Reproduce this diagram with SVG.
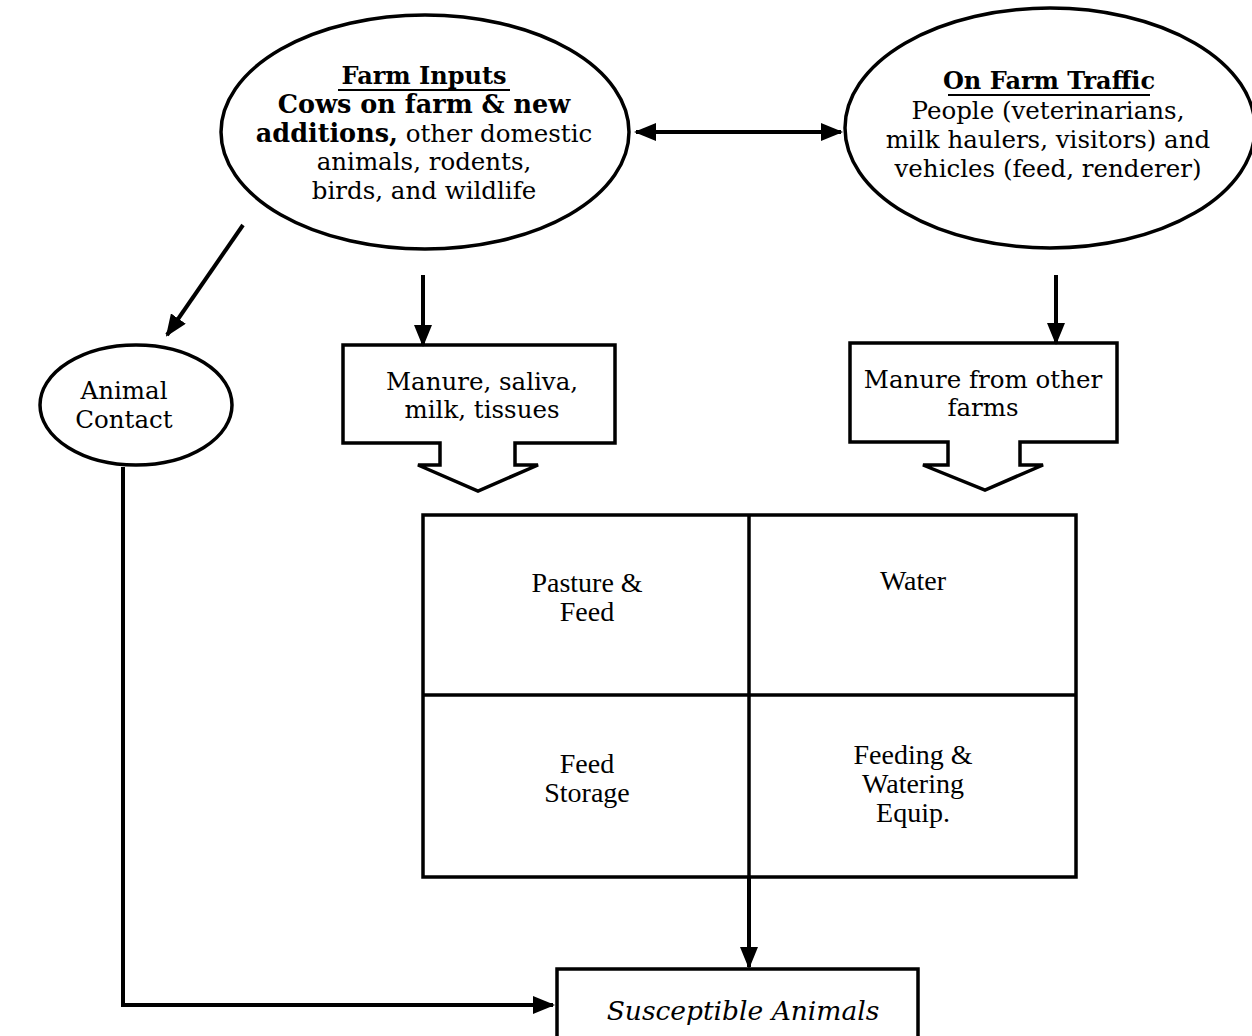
<svg xmlns="http://www.w3.org/2000/svg" width="1252" height="1036" viewBox="0 0 1252 1036">
<style>
.shape{fill:none;stroke:#000;stroke-width:3.5}
.conn{fill:none;stroke:#000;stroke-width:4}
.bk{font-family:"DejaVu Serif","Liberation Serif",serif;font-size:24.5px;fill:#000;text-anchor:middle}
.bkb{font-weight:bold;font-size:24px}
.bkb2{font-weight:bold;font-size:25.5px}
.gd{font-family:"Liberation Serif","DejaVu Serif",serif;font-size:28px;fill:#000;text-anchor:middle}
.it{font-style:italic;font-size:26.5px}
.ul{stroke:#000;stroke-width:2}
</style>
<defs>
<marker id="ah" viewBox="0 0 22 18" refX="20" refY="9" markerWidth="22" markerHeight="18" orient="auto-start-reverse" markerUnits="userSpaceOnUse">
<path d="M0,0 L22,9 L0,18 Z" fill="#000"/>
</marker>
</defs>
<rect width="1252" height="1036" fill="#fff"/>

<g id="farm-inputs">
<ellipse class="shape" cx="425" cy="132" rx="204" ry="117"/>
<text class="bk bkb" x="424" y="84">Farm Inputs</text>
<line class="ul" x1="338" y1="90" x2="510" y2="90"/>
<text class="bk bkb2" x="424" y="113">Cows on farm &amp; new</text>
<text class="bk" x="424" y="142"><tspan font-weight="bold" font-size="25.5">additions,</tspan> other domestic</text>
<text class="bk" x="424" y="170">animals, rodents,</text>
<text class="bk" x="424" y="199">birds, and wildlife</text>
</g>

<g id="on-farm-traffic">
<ellipse class="shape" cx="1050" cy="128" rx="205" ry="120"/>
<text class="bk bkb" x="1049" y="89">On Farm Traffic</text>
<line class="ul" x1="948" y1="95" x2="1150" y2="95"/>
<text class="bk" x="1048" y="119">People (veterinarians,</text>
<text class="bk" x="1048" y="148">milk haulers, visitors) and</text>
<text class="bk" x="1048" y="177">vehicles (feed, renderer)</text>
</g>

<g id="animal-contact">
<ellipse class="shape" cx="136" cy="405" rx="96" ry="60"/>
<text class="bk" x="124" y="399">Animal</text>
<text class="bk" x="124" y="428">Contact</text>
</g>

<g id="manure-saliva">
<path class="shape" d="M343,345 H615 V443 H515 V465 H538 L478,491 L418,465 H440 V443 H343 Z"/>
<text class="bk" x="482" y="390">Manure, saliva,</text>
<text class="bk" x="482" y="418">milk, tissues</text>
</g>

<g id="manure-other">
<path class="shape" d="M850,343 H1117 V442 H1020 V465 H1043 L985,490 L923,465 H948 V442 H850 Z"/>
<text class="bk" x="983" y="388">Manure from other</text>
<text class="bk" x="983" y="416">farms</text>
</g>

<g id="grid">
<rect class="shape" x="423" y="515" width="653" height="362"/>
<line class="shape" x1="749" y1="515" x2="749" y2="877"/>
<line class="shape" x1="423" y1="695" x2="1076" y2="695"/>
<g id="pasture-feed"><text class="gd" x="587" y="592">Pasture &amp;</text><text class="gd" x="587" y="621">Feed</text></g>
<g id="water"><text class="gd" x="913" y="590">Water</text></g>
<g id="feed-storage"><text class="gd" x="587" y="773">Feed</text><text class="gd" x="587" y="802">Storage</text></g>
<g id="feeding-equip"><text class="gd" x="913" y="764">Feeding &amp;</text><text class="gd" x="913" y="793">Watering</text><text class="gd" x="913" y="822">Equip.</text></g>
</g>

<g id="susceptible-animals">
<rect class="shape" x="557" y="969" width="361" height="80"/>
<text class="bk it" x="743" y="1020">Susceptible Animals</text>
</g>

<g id="connectors">
<line class="conn" x1="636" y1="132" x2="841" y2="132" marker-start="url(#ah)" marker-end="url(#ah)"/>
<line class="conn" x1="243" y1="225" x2="167" y2="335" marker-end="url(#ah)"/>
<line class="conn" x1="423" y1="275" x2="423" y2="345" marker-end="url(#ah)"/>
<line class="conn" x1="1056" y1="275" x2="1056" y2="343" marker-end="url(#ah)"/>
<line class="conn" x1="749" y1="877" x2="749" y2="967" marker-end="url(#ah)"/>
<polyline class="conn" points="123,467 123,1005 553,1005" marker-end="url(#ah)"/>
</g>
</svg>
